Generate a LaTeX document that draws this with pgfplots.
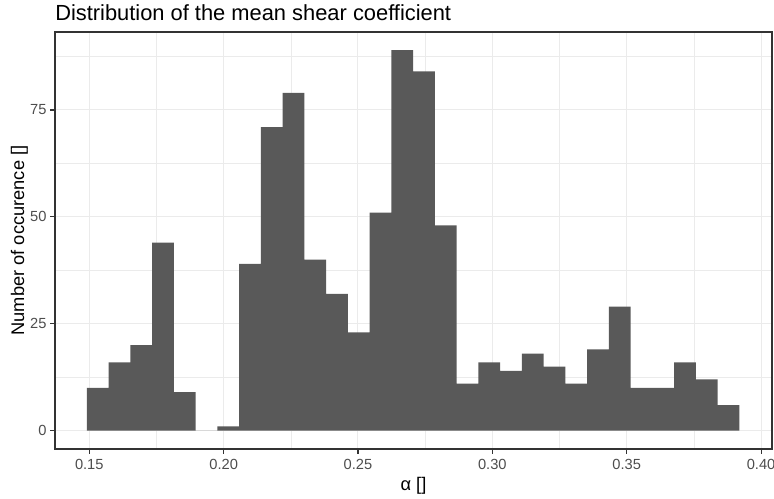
\documentclass[border=0pt]{standalone}
\usepackage{fontspec}
\setmainfont{Liberation Sans}
\usepackage{pgfplots}
\pgfplotsset{compat=1.18}

\definecolor{barfill}{HTML}{595959}
\definecolor{gridc}{HTML}{EBEBEB}
\definecolor{framec}{HTML}{333333}
\definecolor{tickc}{HTML}{4D4D4D}

% histogram bins: left edge, count (last row closes the final bin)
\pgfplotstableread{
x       n
0.14914 10
0.15723 16
0.16532 20
0.17342 44
0.18151 9
0.18960 0
0.19769 1
0.20579 39
0.21388 71
0.22197 79
0.23006 40
0.23816 32
0.24625 23
0.25434 51
0.26243 89
0.27053 84
0.27862 48
0.28671 11
0.29480 16
0.30290 14
0.31099 18
0.31908 15
0.32717 11
0.33527 19
0.34336 29
0.35145 10
0.35954 10
0.36764 16
0.37573 12
0.38382 6
0.39191 6
}\histdata

\begin{document}
\begin{tikzpicture}
\useasboundingbox (0,0) rectangle (580.5pt,374.25pt);
\begin{axis}[
    at={(41.25pt,37.5pt)}, anchor=south west,
    scale only axis,
    width=537.75pt, height=312.75pt,
    xmin=0.13724, xmax=0.40408,
    ymin=-4.28, ymax=93.24,
    xtick={0.15,0.2,0.25,0.3,0.35,0.4},
    ytick={0,25,50,75},
    minor xtick={0.175,0.225,0.275,0.325,0.375},
    minor ytick={12.5,37.5,62.5,87.5},
    xtick pos=bottom, ytick pos=left,
    grid=both,
    major grid style={draw=gridc, line width=0.75pt},
    minor grid style={draw=gridc, line width=0.4pt},
    axis line style={draw=framec, line width=0.8pt},
    tick align=outside,
    major tick length=3.45pt,
    minor tick length=0pt,
    tick style={draw=framec, line width=0.8pt},
    /pgf/number format/assume math mode=true,
    xticklabel style={/pgf/number format/fixed, /pgf/number format/fixed zerofill, /pgf/number format/precision=2},
    ticklabel style={font=\fontsize{11pt}{13pt}\selectfont, text=tickc, inner sep=0pt},
    xticklabel style={anchor=base, yshift=-12.3pt},
    yticklabel style={anchor=east, xshift=-2.75pt},
    xlabel={α []},
    ylabel={Number of occurence []},
    label style={font=\fontsize{13.7pt}{16pt}\selectfont, text=black, inner sep=0pt},
    xlabel style={at={(axis description cs:0.5,0)}, anchor=base, yshift=-31.5pt},
    ylabel style={at={(axis description cs:-0.0495,0.5)}, anchor=center},
    title={Distribution of the mean shear coefficient},
    title style={at={(axis description cs:0,1)}, anchor=base west, yshift=2.25pt,
        inner sep=0pt, font=\fontsize{16.4pt}{19pt}\selectfont},
]
\addplot[ybar interval, fill=barfill, draw=none] table[x=x, y=n] {\histdata};
\end{axis}
\end{tikzpicture}
\end{document}
